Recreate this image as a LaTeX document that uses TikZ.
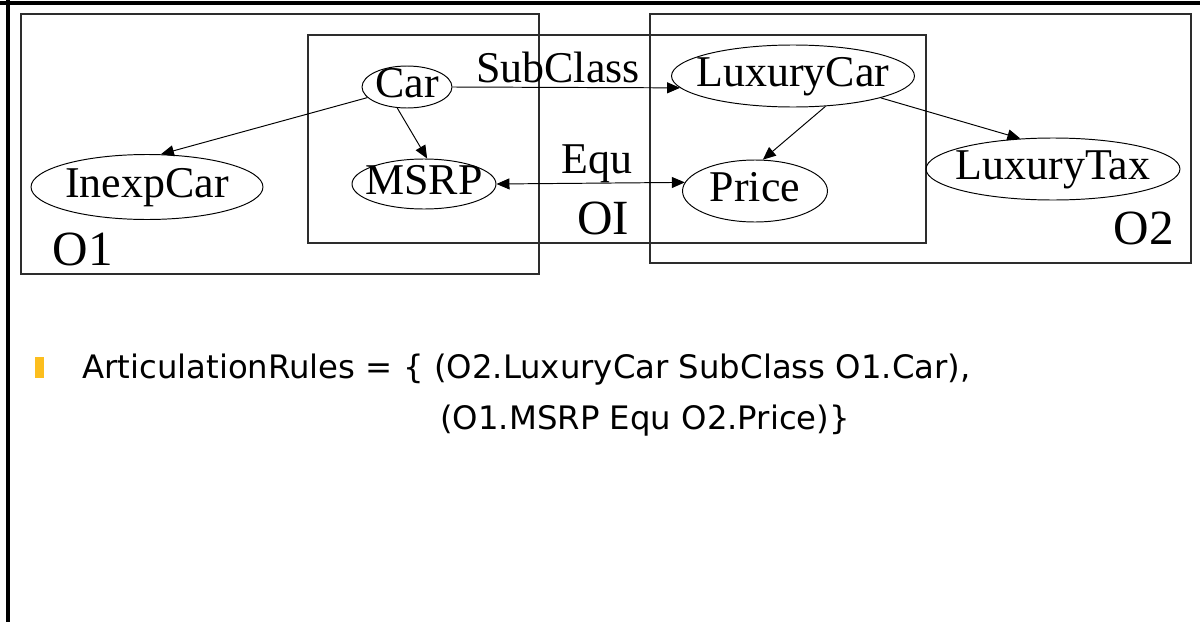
\documentclass[tikz,border=0pt]{standalone}
\usepackage{fontspec}
\setmainfont{Liberation Serif}
\newfontfamily\rulesfont{DejaVu Sans}
\usetikzlibrary{arrows.meta,shapes.geometric}
\definecolor{bulletgold}{RGB}{252,190,30}
\definecolor{boxgray}{RGB}{45,45,45}

\begin{document}
\begin{tikzpicture}[x=0.02cm, y=-0.02cm,
    concept/.style={draw, ellipse, inner sep=-40pt, line width=0.55pt, text height=17pt, text depth=5pt, font=\fontsize{25}{30}\selectfont},
    onto/.style={draw=boxgray, line width=0.9pt},
    arrow/.style={-{Triangle[length=2.6mm, width=2.2mm]}, line width=0.55pt},
    edgelabel/.style={inner sep=0pt, font=\fontsize{25}{30}\selectfont},
    boxlabel/.style={inner sep=0pt, font=\fontsize{28}{33}\selectfont},
    rule/.style={inner sep=0pt, anchor=base west, font=\rulesfont\fontsize{18.4}{22}\selectfont}
]
\useasboundingbox (0,0) rectangle (1200,622);

% Frame
\draw[line width=2.2pt] (0,3) -- (1200,3);
\draw[line width=1.8pt] (8,0) -- (8,622);

% Ontologies
\draw[onto] (21,14) rectangle (539,274);
\draw[onto] (308,35) rectangle (926,243);
\draw[onto] (650,14) rectangle (1191,263);
\node[boxlabel] (o1) at (83,249) {O1};
\node[boxlabel] (oi) at (603,218) {OI};
\node[boxlabel] (o2) at (1144,228) {O2};

% Concepts of O1
\node[concept, minimum width=1.8cm, minimum height=0.84cm] (car) at (407,87) {Car};
\node[concept, minimum width=4.64cm, minimum height=1.3cm] (inexp) at (147,187) {InexpCar};
\node[concept, minimum width=2.88cm, minimum height=1cm] (msrp) at (424,184) {MSRP};

% Concepts of O2
\node[concept, minimum width=4.86cm, minimum height=1.24cm] (luxcar) at (793,76) {LuxuryCar};
\node[concept, minimum width=2.9cm, minimum height=1.24cm] (price) at (755,191) {Price};
\node[concept, minimum width=5.08cm, minimum height=1.24cm] (luxtax) at (1053,169) {LuxuryTax};

% Articulations
\node[edgelabel] (subclass) at (558,67) {SubClass};
\node[edgelabel] (equ) at (597,164) {Equ};
\draw[arrow] (car.east) -- (luxcar.186);
\draw[arrow, {Triangle[length=2.6mm, width=2.2mm]}-{Triangle[length=2.6mm, width=2.2mm]}] (msrp.east) -- (price.173);

% Edges inside the ontologies
\draw[arrow] (car.195) -- (inexp.67);
\draw[arrow] (car.-115) -- (msrp.83);
\draw[arrow] (luxcar.-43) -- (price.76);
\draw[arrow] (luxcar.-14) -- (luxtax.137);

% Rules
\node[fill=bulletgold, inner sep=0pt, minimum width=0.18cm, minimum height=0.42cm] (bullet) at (39.5,367.5) {};
\node[rule] (rule1) at (82,378) {ArticulationRules = \{ (O2.LuxuryCar SubClass O1.Car),};
\node[rule] (rule2) at (440,429) {(O1.MSRP Equ O2.Price)\}};

\end{tikzpicture}
\end{document}
